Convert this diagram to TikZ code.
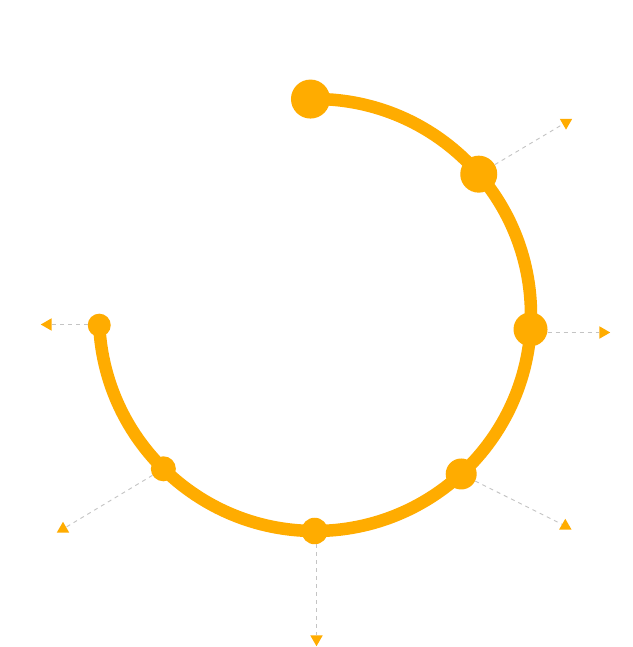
\documentclass[tikz,border=0pt]{standalone}
\usetikzlibrary{shapes.geometric,calc}
\definecolor{amber}{HTML}{FFAC00}
\definecolor{dashgray}{HTML}{C4C4C4}
\tikzset{
  dot/.style={circle,fill=amber,inner sep=0pt,minimum size=#1},
  tri/.style={regular polygon,regular polygon sides=3,fill=amber,inner sep=0pt,minimum size=14.4pt,rotate=#1},
  leader/.style={draw=dashgray,line width=0.9pt,dash pattern=on 4pt off 4pt},
  ring/.style={draw=amber,line width=12.5pt}
}
\begin{document}
\begin{tikzpicture}[x=1pt,y=-1pt]
\useasboundingbox[fill=white] (0,0) rectangle (632,647);
\coordinate (c) at (315,315);
% triangles (arrow marks)
\node[tri=180] (tNE) at (566,122.4) {};
\node[tri=-90] (tE) at (603,332.5) {};
\node[tri=0] (tSE) at (565.3,526) {};
\node[tri=180] (tS) at (316.5,639) {};
\node[tri=90] (tW) at (48,324.5) {};
\node[tri=0] (tSW) at (63,529) {};
% ring
\draw[ring] ($(c)+(-91.2:216)$) arc[start angle=-91.2,end angle=177.3,radius=216];
% dots
\node[dot=39pt] (d0) at ($(c)+(-91.2:216)$) {};
\node[dot=37pt] (dNE) at ($(c)+(-40.7:216)$) {};
\node[dot=34pt] (dE) at ($(c)+(3.8:216)$) {};
\node[dot=31pt] (dSE) at ($(c)+(47.4:216)$) {};
\node[dot=26.5pt] (dS) at ($(c)+(90.1:216)$) {};
\node[dot=25pt] (dSW) at ($(c)+(134.6:216)$) {};
\node[dot=23pt] (dW) at ($(c)+(177.3:216)$) {};
% leaders
\draw[leader] (dNE) -- (tNE);
\draw[leader] (dE.east |- tE.center) -- (tE);
\draw[leader] (dSE) -- (tSE);
\draw[leader] (tS.center |- dS.south) -- (tS);
\draw[leader] (dW.west |- tW.center) -- (tW);
\draw[leader] (dSW) -- (tSW);
\end{tikzpicture}
\end{document}
